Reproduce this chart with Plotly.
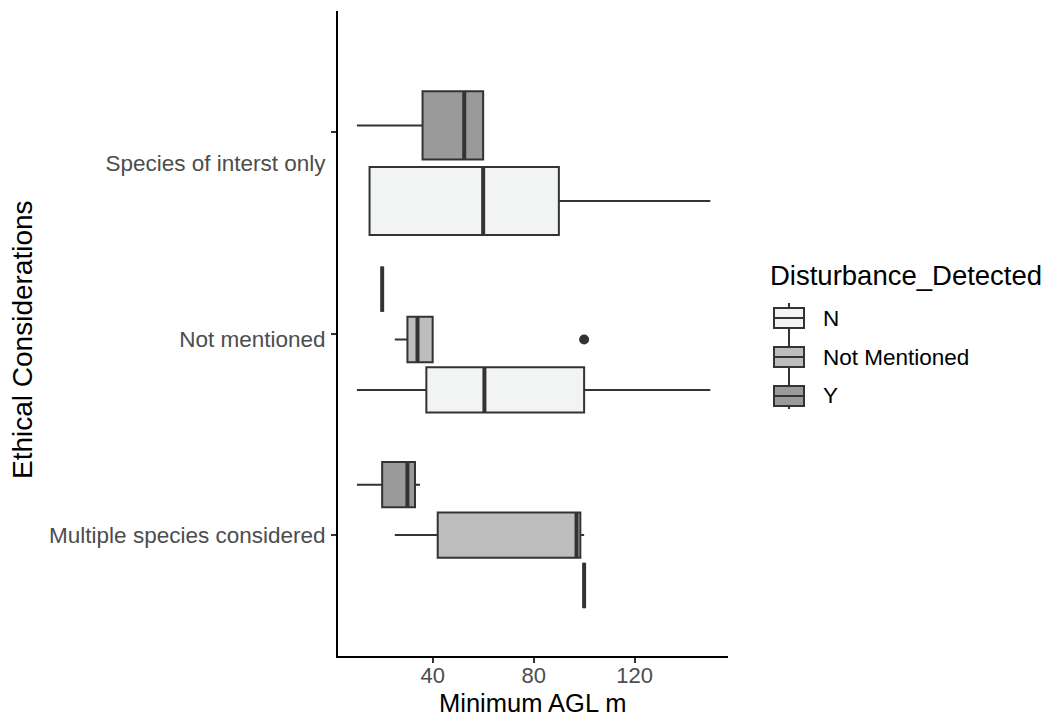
import plotly.graph_objects as go

# ---- data -------------------------------------------------------------
categories = ["Multiple species considered", "Not mentioned", "Species of interst only"]
groups = ["N", "Not Mentioned", "Y"]

# five-number summaries, one entry per category (None = group not present)
n_lower = [100, 10, 15]
n_q1 = [100, 37.5, 15]
n_median = [100, 60.5, 60]
n_q3 = [100, 100, 90]
n_upper = [100, 150, 150]

nm_lower = [25, 25, None]
nm_q1 = [42, 30, None]
nm_median = [97, 34, None]
nm_q3 = [98.5, 40, None]
nm_upper = [100, 40, None]

y_lower = [10, 20, 10]
y_q1 = [20, 20, 36]
y_median = [30, 20, 52.5]
y_q3 = [33, 20, 60]
y_upper = [35, 20, 60]

outlier_category = ["Not mentioned"]
outlier_group = ["Not Mentioned"]
outlier_value = [100]

x_ticks = [40, 80, 120]

# ---- styling / layout helpers -----------------------------------------
stats = {
    "N": (n_lower, n_q1, n_median, n_q3, n_upper),
    "Not Mentioned": (nm_lower, nm_q1, nm_median, nm_q3, nm_upper),
    "Y": (y_lower, y_q1, y_median, y_q3, y_upper),
}
fills = {"N": "#F2F3F3", "Not Mentioned": "#BDBDBD", "Y": "#9A9A9A"}
edge = "#333333"
FONT = "Liberation Sans, Arial, sans-serif"
TICK_SIZE = 22.5
TITLE_SIZE = 28

# vertical placement of each category's dodged group of boxes
cat_center = [1.0, 1.97, 2.845]
cat_slot = [0.25, 0.25, 0.375]

W, H = 1046, 719
L, R, T, B = 338, 728, 11, 656


def px(x):
    return (x - L) / (R - L)


def py(y):
    return (B - y) / (B - T)


fig = go.Figure()

positions = {}
med_x, med_y = [], []
for ci, cat in enumerate(categories):
    present = [g for g in groups if stats[g][2][ci] is not None]
    n = len(present)
    for gi, g in enumerate(present):
        pos = cat_center[ci] + (gi - (n - 1) / 2) * cat_slot[ci]
        width = 0.9 * cat_slot[ci]
        positions[(cat, g)] = (pos, width)
        lo, q1, med, q3, hi = (s[ci] for s in stats[g])
        fig.add_trace(go.Box(
            orientation="h",
            y=[pos],
            lowerfence=[lo], q1=[q1], median=[med], q3=[q3], upperfence=[hi],
            width=width,
            fillcolor=fills[g],
            line=dict(color=edge, width=2),
            whiskerwidth=0,
            boxpoints=False,
            name=g,
            showlegend=False,
            hoverinfo="skip",
        ))
        med_x += [med, med, None]
        med_y += [pos - width / 2, pos + width / 2, None]

# thick median bars
fig.add_trace(go.Scatter(
    x=med_x, y=med_y, mode="lines",
    line=dict(color=edge, width=4),
    showlegend=False, hoverinfo="skip",
))

# outliers
fig.add_trace(go.Scatter(
    x=outlier_value,
    y=[positions[(c, g)][0] for c, g in zip(outlier_category, outlier_group)],
    mode="markers",
    marker=dict(color=edge, size=10),
    showlegend=False, hoverinfo="skip",
))

# ---- legend drawn as boxplot keys ---------------------------------------
shapes = []
annotations = []
key_x0, key_x1, key_mid = 774, 804, 789
key_centers = [318, 357, 396]
shapes.append(dict(type="line", xref="paper", yref="paper",
                   x0=px(key_mid), x1=px(key_mid), y0=py(303), y1=py(409),
                   line=dict(color=edge, width=2), layer="above"))
for g, yc in zip(groups, key_centers):
    shapes.append(dict(type="rect", xref="paper", yref="paper",
                       x0=px(key_x0), x1=px(key_x1), y0=py(yc + 10), y1=py(yc - 10),
                       fillcolor=fills[g], line=dict(color=edge, width=2), layer="above"))
    shapes.append(dict(type="line", xref="paper", yref="paper",
                       x0=px(key_x0), x1=px(key_x1), y0=py(yc), y1=py(yc),
                       line=dict(color=edge, width=2), layer="above"))
    annotations.append(dict(text=g, xref="paper", yref="paper", x=px(821), y=py(yc),
                            xanchor="left", yanchor="middle", showarrow=False,
                            font=dict(family=FONT, size=TICK_SIZE, color="#000000")))
annotations.append(dict(text="Disturbance_Detected", xref="paper", yref="paper",
                        x=px(768), y=py(275), xanchor="left", yanchor="middle",
                        showarrow=False, font=dict(family=FONT, size=TITLE_SIZE - 0.5,
                                                   color="#000000")))

# axis titles
annotations.append(dict(text="Minimum AGL m", xref="paper", yref="paper",
                        x=0.5, y=py(703), xanchor="center", yanchor="middle",
                        borderpad=0,
                        showarrow=False, font=dict(family=FONT, size=25.5, color="#000000")))
annotations.append(dict(text="Ethical Considerations", xref="paper", yref="paper",
                        x=px(22), y=py(340), xanchor="center", yanchor="middle",
                        textangle=-90, showarrow=False,
                        font=dict(family=FONT, size=TITLE_SIZE, color="#000000")))

fig.update_layout(
    width=W, height=H,
    margin=dict(l=L, r=W - R, t=T, b=H - B),
    paper_bgcolor="white", plot_bgcolor="white",
    showlegend=False,
    font=dict(family=FONT),
    shapes=shapes,
    annotations=annotations,
    xaxis=dict(
        range=[2.5, 157],
        tickmode="array", tickvals=x_ticks,
        ticks="outside", ticklen=5, tickwidth=2, tickcolor=edge,
        ticklabelstandoff=-6,
        tickfont=dict(family=FONT, size=22, color="#4D4D4D"),
        showline=True, linecolor="#000000", linewidth=2,
        showgrid=False, zeroline=False,
    ),
    yaxis=dict(
        range=[0.4, 3.6],
        tickmode="array", tickvals=cat_center, ticktext=categories,
        ticks="outside", ticklen=5, tickcolor="rgba(0,0,0,0)",
        ticklabelstandoff=1,
        tickfont=dict(family=FONT, size=TICK_SIZE, color="#4D4D4D"),
        minor=dict(tickmode="array", tickvals=[1, 2, 3], ticks="outside",
                   ticklen=5, tickwidth=2, tickcolor=edge, showgrid=False),
        showline=True, linecolor="#000000", linewidth=2,
        showgrid=False, zeroline=False,
    ),
)

fig.write_html("out.html")
